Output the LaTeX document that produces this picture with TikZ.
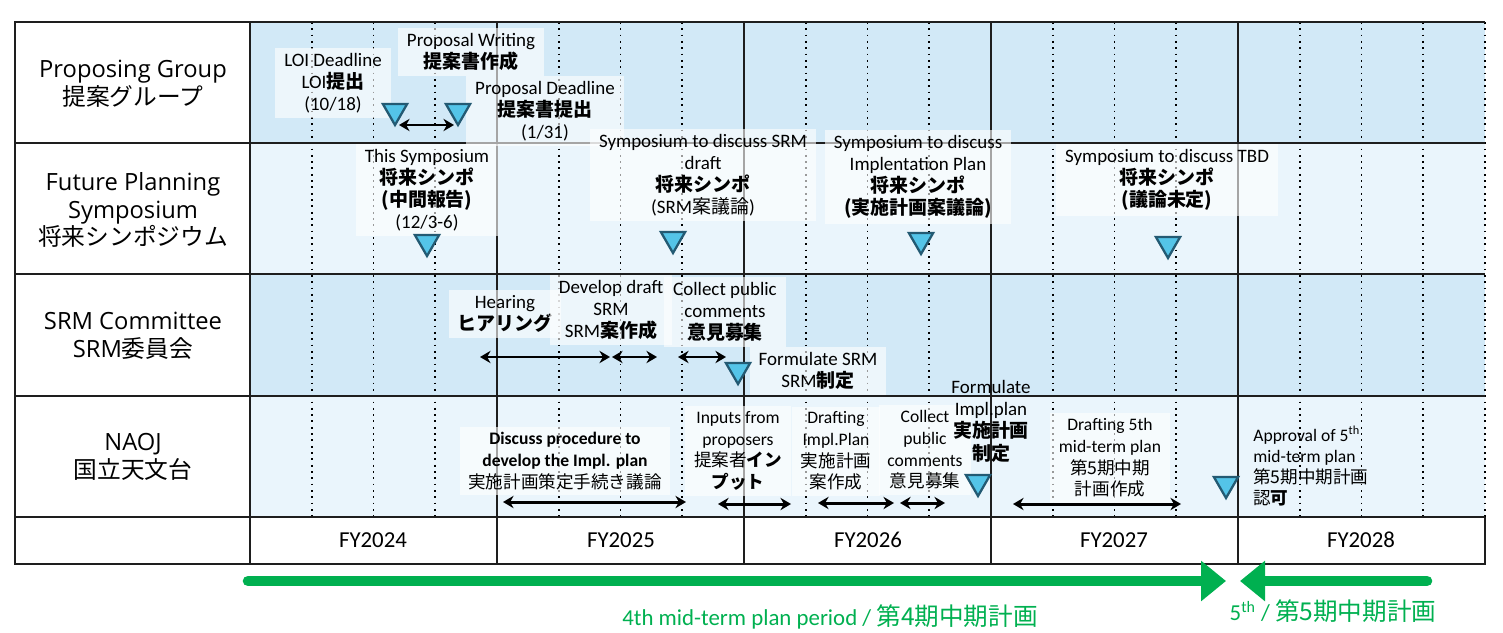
\documentclass[tikz,border=0pt]{standalone}
\usepackage{fontspec}
\setmainfont{Carlito}
\newfontfamily\jpfont{Noto Sans CJK JP}
\newfontfamily\rowfont{Open Sans}
\usetikzlibrary{arrows.meta,shapes.geometric}
\definecolor{tlband}{RGB}{210,233,247}
\definecolor{tlpale}{RGB}{234,245,252}
\definecolor{tlline}{RGB}{30,30,30}
\definecolor{tlcyan}{RGB}{84,196,232}
\definecolor{tlteal}{RGB}{35,90,115}
\definecolor{tlgreen}{RGB}{0,176,80}
\newcommand{\jr}[1]{{\jpfont #1}}
\newcommand{\jb}[1]{{\jpfont\bfseries #1}}
\tikzset{
  evbox/.style={fill=white, fill opacity=0.6, text opacity=1, align=center,
    inner xsep=5pt, inner ysep=3pt, font=\fontsize{10.8}{12.5}\selectfont},
  evtext/.style={align=center, inner sep=2pt, font=\fontsize{10.8}{12.7}\selectfont},
  naojbox/.style={evbox, font=\fontsize{10}{12.3}\selectfont},
  naojtext/.style={align=left, inner sep=0pt, font=\fontsize{10}{12}\selectfont},
  rowlabel/.style={align=center, font=\rowfont\fontsize{13.5}{15.8}\selectfont},
  fylabel/.style={font=\fontsize{13}{15}\selectfont},
  milestone/.style={regular polygon, regular polygon sides=3, shape border rotate=180,
    draw=tlteal, fill=tlcyan, line width=1.3pt, inner sep=0pt, minimum size=0.56cm},
  spanarrow/.style={{Stealth[length=6pt,width=7pt]}-{Stealth[length=6pt,width=7pt]}, line width=1.7pt},
  qline/.style={line width=0.9pt, dash pattern=on 1pt off 2.6pt},
  tabline/.style={tlline, line width=0.9pt},
  planarrow/.style={tlgreen, line width=6pt, line cap=round},
}
\begin{document}
\begin{tikzpicture}[x=0.02cm, y=-0.02cm]
  \useasboundingbox (0,0) rectangle (1503,632);
  % Row bands
  \fill[tlband] (250,22) rectangle (1485,143);
  \fill[tlpale] (250,143) rectangle (1485,274);
  \fill[tlband] (250,274) rectangle (1485,396);
  \fill[tlpale] (250,396) rectangle (1485,517);
  % Quarter lines (dotted)
  \foreach \k in {1,2,3,5,6,7,9,10,11,13,14,15,17,18,19,20}
    \draw[qline] ({250+61.75*\k},22) -- ({250+61.75*\k},517);
  % Table grid
  \foreach \xx in {250,497,744,991,1238}
    \draw[tabline] (\xx,22) -- (\xx,564);
  \foreach \yy in {143,274,396,517}
    \draw[tabline] (15,\yy) -- (1485,\yy);
  \draw[tabline, line width=1.2pt] (1485,517) -- (1485,564) -- (15,564) -- (15,22) -- (1485,22);

  % Row labels
  \node[rowlabel] (pgroup) at (133,84) {Proposing Group\\\jr{提案グループ}};
  \node[rowlabel] (fpsym) at (133,210) {Future Planning\\Symposium\\\jr{将来シンポジウム}};
  \node[rowlabel] (srmcom) at (133,336) {SRM Committee\\SRM\jr{委員会}};
  \node[rowlabel] (naoj) at (133,457) {NAOJ\\\jr{国立天文台}};

  % Fiscal years
  \node[fylabel] (fy24) at (373,540) {FY2024};
  \node[fylabel] (fy25) at (621,540) {FY2025};
  \node[fylabel] (fy26) at (868,540) {FY2026};
  \node[fylabel] (fy27) at (1114,540) {FY2027};
  \node[fylabel] (fy28) at (1361,540) {FY2028};

  % Proposing group
  \node[evbox] (loi) at (333,83) {LOI Deadline\\LOI\jb{提出}\\(10/18)};
  \node[evbox] (writing) at (471,52) {Proposal Writing\\\jb{提案書作成}};
  \node[evbox] (propdl) at (545,111) {Proposal Deadline\\\jb{提案書提出}\\(1/31)};
  \node[milestone] (loitri) at (395,111) {};
  \node[milestone] (proptri) at (458,111) {};
  \coordinate (wrs) at (399,125);
  \coordinate (wre) at (454,125);
  \draw[spanarrow] (wrs) -- (wre);

  % Future planning symposium
  \node[evbox] (thissym) at (427,190) {This Symposium\\\jb{将来シンポ}\\\jb{(中間報告)}\\(12/3-6)};
  \node[evbox] (srmsym) at (703,175) {Symposium to discuss SRM\\draft\\\jb{将来シンポ}\\(SRM\jr{案議論})};
  \node[evbox] (implsym) at (918,177) {Symposium to discuss\\Implentation Plan\\\jb{将来シンポ}\\\jb{(実施計画案議論)}};
  \node[evbox] (tbdsym) at (1167,180) {Symposium to discuss TBD\\\jb{将来シンポ}\\\jb{(議論未定)}};
  \node[milestone] (thistri) at (427,242) {};
  \node[milestone] (srmsymtri) at (673,239) {};
  \node[milestone] (impltri) at (921,240) {};
  \node[milestone] (tbdtri) at (1168,244) {};

  % SRM committee
  \node[evbox] (hearing) at (505,314) {Hearing\\\jb{ヒアリング}};
  \node[evbox] (devsrm) at (611,310) {Develop draft\\SRM\\SRM\jb{案作成}};
  \node[evbox] (collect) at (725,312) {Collect public\\comments\\\jb{意見募集}};
  \node[evbox] (formsrm) at (818,371) {Formulate SRM\\SRM\jb{制定}};
  \node[milestone] (srmtri) at (738,370) {};
  \coordinate (hrs) at (480,357);
  \coordinate (hre) at (610,357);
  \coordinate (dvs) at (612,357);
  \coordinate (dve) at (657,357);
  \coordinate (cls) at (678,357);
  \coordinate (cle) at (726,357);
  \draw[spanarrow] (hrs) -- (hre);
  \draw[spanarrow] (dvs) -- (dve);
  \draw[spanarrow] (cls) -- (cle);

  % NAOJ
  \node[naojbox] (discuss) at (565,461) {\textbf{Discuss procedure to}\\\textbf{develop the Impl. plan}\\\jr{実施計画策定手続き議論}};
  \node[naojbox] (inputs) at (738,451) {Inputs from\\proposers\\\jr{提案者}\jb{イン}\\\jb{プット}};
  \node[naojbox] (drafting) at (836,451) {Drafting\\Impl.Plan\\\jr{実施計画}\\\jr{案作成}};
  \node[naojbox] (collnaoj) at (925,450) {Collect\\public\\comments\\\jr{意見募集}};
  \node[evtext] (formimpl) at (991,421) {Formulate\\Impl.plan\\\jb{実施計画}\\\jb{制定}};
  \node[naojbox] (draft5) at (1110,458) {Drafting 5th\\mid-term plan\\\jr{第5期中期}\\\jr{計画作成}};
  \node[naojtext, anchor=west] (approval) at (1253,466) {Approval of 5\textsuperscript{th}\\mid-term plan\\\jr{第5期中期計画}\\\jr{認}\jb{可}};
  \node[milestone] (impltri2) at (978,482) {};
  \node[milestone] (approvtri) at (1226,484) {};
  \coordinate (dcs) at (503,502);
  \coordinate (dce) at (686,502);
  \coordinate (ips) at (718,504);
  \coordinate (ipe) at (791,504);
  \coordinate (dfs) at (818,503);
  \coordinate (dfe) at (894,503);
  \coordinate (cns) at (900,503);
  \coordinate (cne) at (945,503);
  \coordinate (d5s) at (1013,504);
  \coordinate (d5e) at (1181,504);
  \draw[spanarrow] (dcs) -- (dce);
  \draw[spanarrow] (ips) -- (ipe);
  \draw[spanarrow] (dfs) -- (dfe);
  \draw[spanarrow] (cns) -- (cne);
  \draw[spanarrow] (d5s) -- (d5e);

  % Mid-term plan periods
  \coordinate (p4s) at (248,581);
  \coordinate (p4e) at (1226,581);
  \coordinate (p5s) at (1427,581);
  \coordinate (p5e) at (1240,581);
  \draw[planarrow, -{Triangle[length=0.5cm,width=0.78cm]}] (p4s) -- (p4e);
  \draw[planarrow, -{Triangle[length=0.5cm,width=0.78cm]}] (p5s) -- (p5e);
  \node[tlgreen, font=\fontsize{13}{15}\selectfont] (p4text) at (830,617)
    {4th mid-term plan period / \jr{\fontsize{14}{16}\selectfont 第4期中期計画}};
  \node[tlgreen, font=\fontsize{13}{15}\selectfont] (p5text) at (1333,611)
    {5\textsuperscript{th} / \jr{\fontsize{14}{16}\selectfont 第5期中期計画}};
\end{tikzpicture}
\end{document}
